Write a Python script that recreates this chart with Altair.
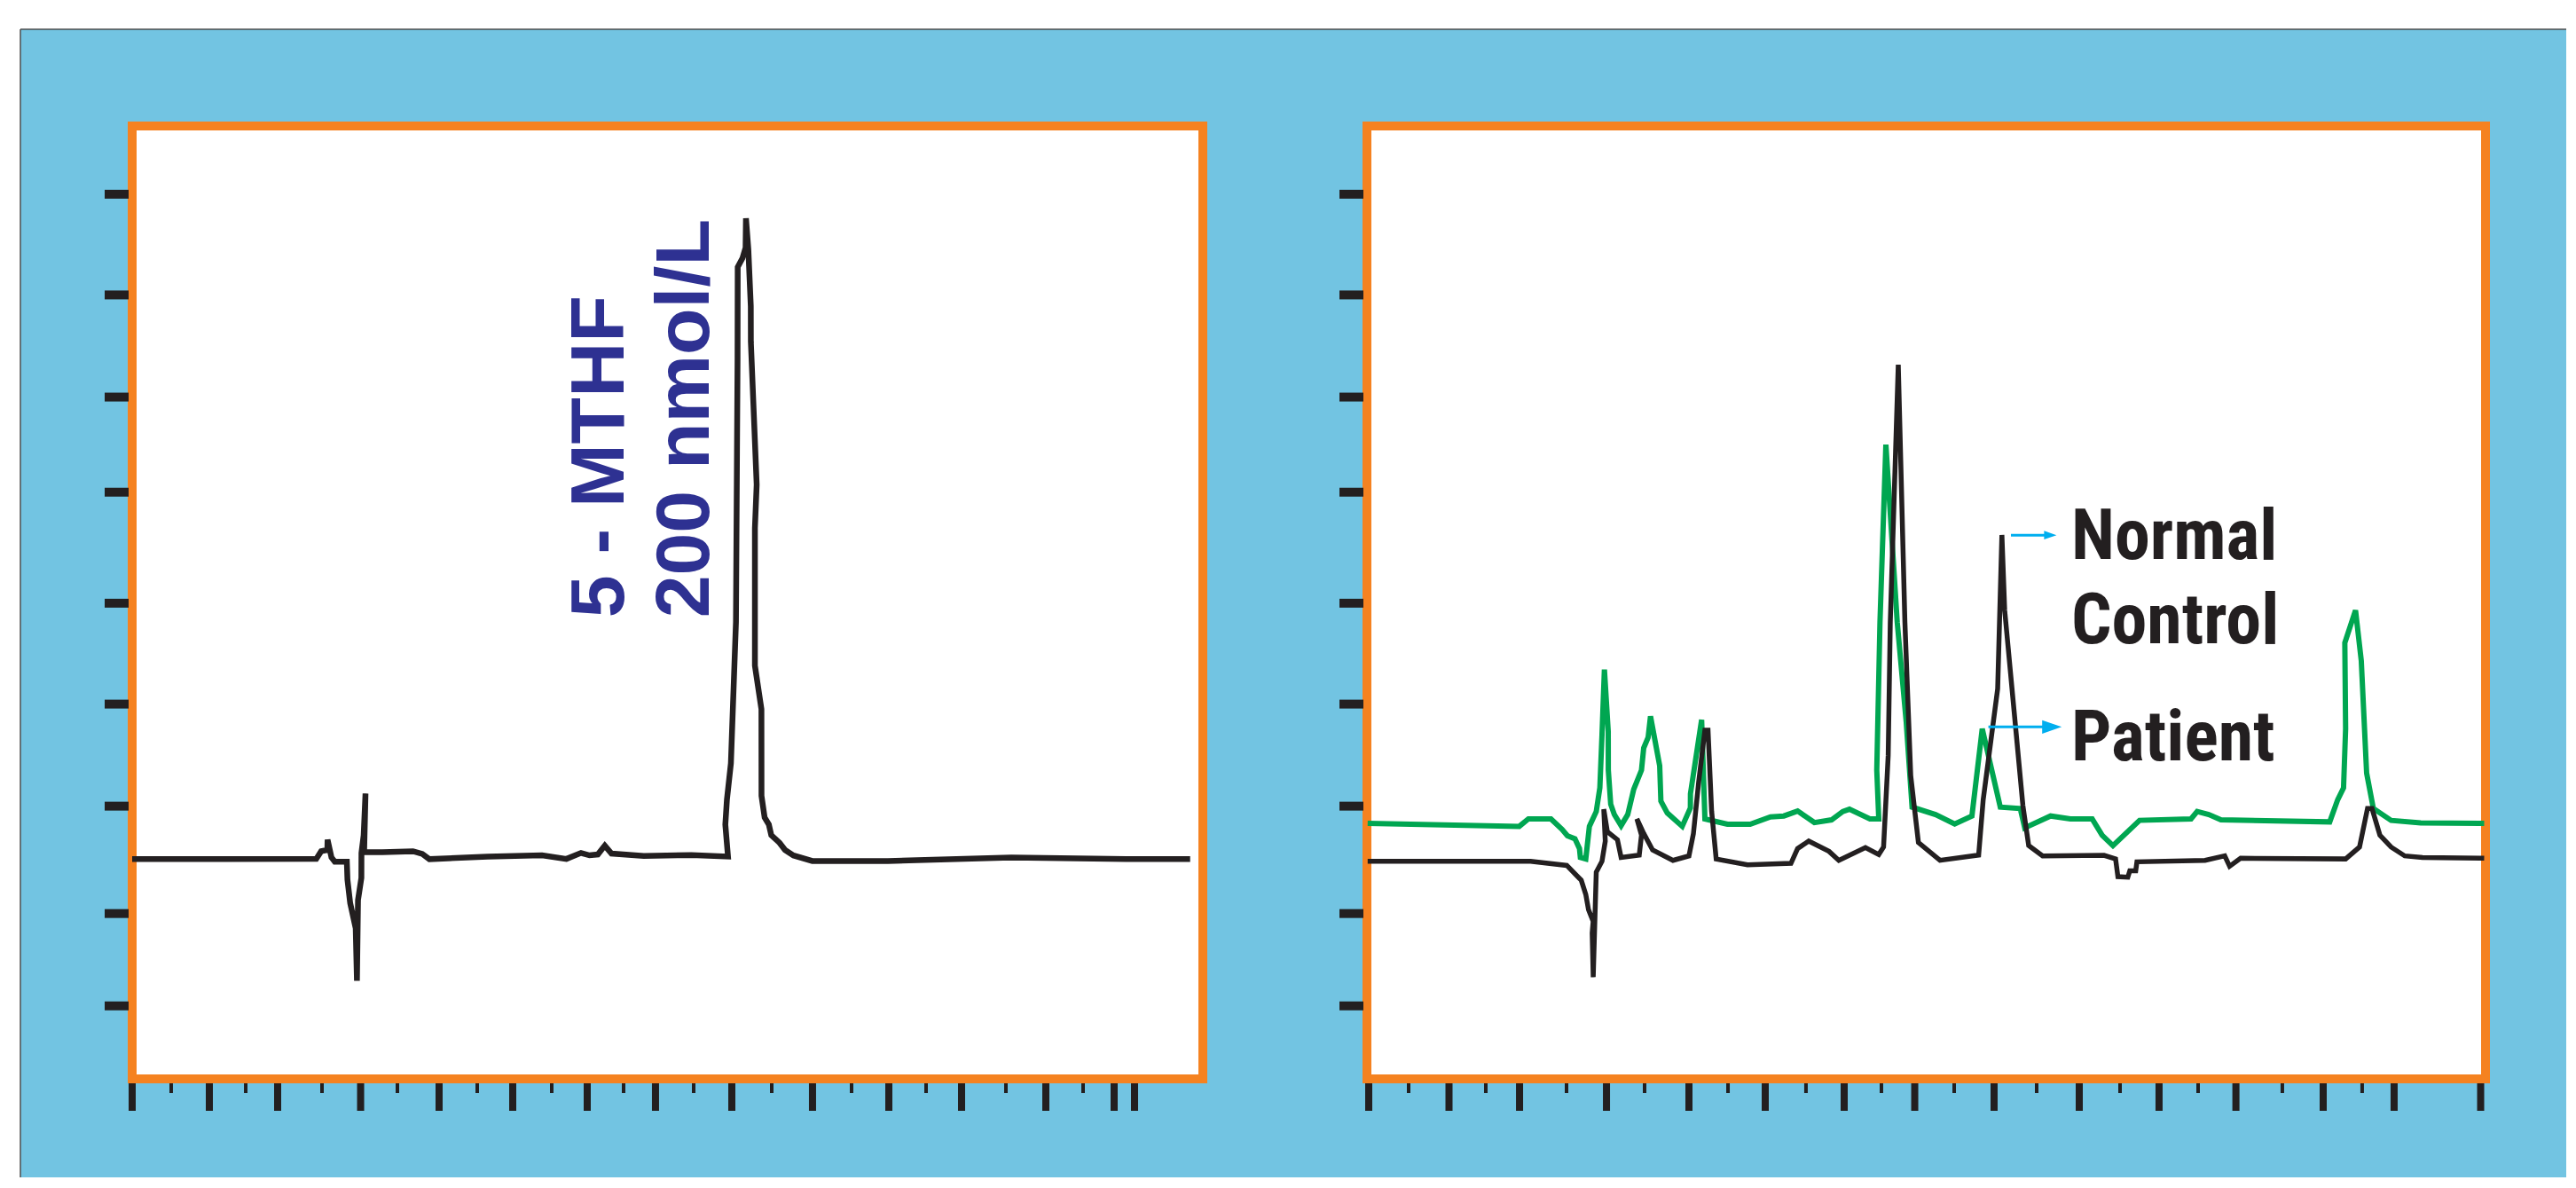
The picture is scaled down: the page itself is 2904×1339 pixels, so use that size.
import altair as alt
import pandas as pd

# ---------------- data (retention time in min, detector signal in arbitrary units) ----------------
# Left panel: 5-MTHF standard, 200 nmol/L
std_time = [0.000, 2.407, 2.471, 2.552, 2.555, 2.606, 2.650, 2.807, 2.815, 2.851, 2.923, 2.939, 2.953,
            2.997, 2.998, 3.027, 3.051, 3.033, 3.271, 3.672, 3.793, 3.886, 4.649, 5.359, 5.678, 5.869,
            5.980, 6.089, 6.180, 6.268, 6.690, 7.312, 7.791, 7.756, 7.777, 7.829, 7.895, 7.916, 7.918,
            7.980, 8.021, 8.026, 8.057, 8.089, 8.090, 8.166, 8.143, 8.143, 8.228, 8.229, 8.270, 8.325,
            8.357, 8.465, 8.537, 8.647, 8.894, 9.882, 11.495, 12.997, 13.834]
std_signal = [23.06, 23.08, 23.89, 24.02, 25.10, 23.24, 22.78, 22.78, 20.91, 18.43, 15.79, 10.29, 18.77,
              21.10, 23.71, 25.57, 29.95, 23.80, 23.80, 23.89, 23.61, 23.06, 23.33, 23.46, 23.08, 23.71,
              23.46, 23.55, 24.48, 23.64, 23.40, 23.49, 23.33, 26.69, 29.30, 33.12, 47.93, 75.69, 85.19,
              86.12, 87.24, 90.31, 87.05, 81.09, 77.36, 62.37, 57.80, 43.36, 38.80, 29.71, 27.43, 26.69,
              25.57, 24.77, 24.02, 23.45, 22.87, 22.87, 23.24, 23.06, 23.06]

# Right panel: normal control (black)
ctrl_time = [0.009, 2.048, 2.501, 2.682, 2.739, 2.773, 2.831, 2.819, 2.832, 2.870, 2.942, 2.983, 2.964,
             3.009, 3.135, 3.181, 3.408, 3.436, 3.379, 3.464, 3.575, 3.830, 4.030, 4.086, 4.152, 4.230,
             4.269, 4.314, 4.371, 4.763, 5.307, 5.390, 5.529, 5.784, 5.906, 6.239, 6.406, 6.466, 6.524,
             6.550, 6.650, 6.733, 6.806, 6.902, 7.172, 7.656, 7.713, 7.894, 7.947, 7.982, 8.210, 8.282,
             8.457, 9.226, 9.370, 9.399, 9.523, 9.548, 9.622, 9.637, 10.489, 10.736, 10.797, 10.935,
             12.249, 12.423, 12.523, 12.579, 12.678, 12.818, 12.989, 13.211, 13.983]
ctrl_signal = [22.84, 22.84, 22.40, 20.85, 19.36, 17.75, 16.53, 15.32, 10.67, 21.69, 22.84, 24.95, 28.30,
               25.94, 25.10, 23.24, 23.49, 25.57, 27.28, 25.76, 24.02, 22.93, 23.40, 25.73, 31.16, 36.59,
               36.59, 28.09, 23.08, 22.47, 22.62, 24.17, 24.95, 23.87, 22.93, 24.27, 23.55, 24.33, 33.95,
               47.93, 74.94, 47.93, 31.81, 24.80, 22.93, 23.49, 29.30, 40.94, 57.08, 49.17, 28.67, 24.48,
               23.40, 23.46, 23.08, 21.22, 21.16, 21.84, 21.84, 22.78, 22.93, 23.40, 22.31, 23.15,
               23.08, 24.33, 28.37, 28.37, 25.57, 24.33, 23.40, 23.24, 23.15]

# Right panel: patient (green)
pat_time = [0.009, 1.906, 2.021, 2.303, 2.442, 2.509, 2.603, 2.660, 2.671, 2.739, 2.784, 2.870, 2.915,
            2.942, 2.972, 3.020, 3.021, 3.051, 3.096, 3.181, 3.264, 3.339, 3.436, 3.464, 3.519, 3.549,
            3.664, 3.679, 3.759, 3.946, 4.048, 4.049, 4.189, 4.230, 4.512, 4.796, 5.051, 5.218, 5.390,
            5.600, 5.815, 5.956, 6.039, 6.295, 6.406, 6.381, 6.421, 6.495, 6.637, 6.750, 6.823, 7.116,
            7.356, 7.572, 7.701, 7.927, 8.177, 8.233, 8.556, 8.804, 9.077, 9.201, 9.337, 9.670, 10.314,
            10.391, 10.536, 10.688, 12.050, 12.150, 12.223, 12.249, 12.239, 12.373, 12.445, 12.512,
            12.596, 12.818, 13.189, 13.983]
pat_signal = [26.81, 26.50, 27.28, 27.28, 26.19, 25.51, 25.20, 24.17, 23.24, 23.08, 26.50, 28.06, 30.54,
              36.12, 42.96, 36.44, 32.40, 28.83, 27.74, 26.57, 27.74, 30.39, 32.40, 34.73, 35.82, 38.05,
              32.86, 29.14, 27.90, 26.50, 28.43, 29.92, 37.68, 27.28, 26.72, 26.72, 27.50, 27.59, 28.11,
              26.90, 27.18, 28.06, 28.30, 27.28, 27.28, 32.40, 47.93, 66.56, 47.93, 37.40, 28.52, 27.74,
              26.75, 27.59, 36.75, 28.52, 28.37, 26.34, 27.59, 27.28, 27.28, 25.57, 24.48, 27.13, 27.28,
              28.06, 27.74, 27.18, 26.97, 29.30, 30.54, 36.75, 45.76, 49.17, 43.89, 32.09,
              28.37, 27.13, 26.87, 26.81]

# tick positions (unlabelled)
y_tick_values = [92.84, 82.27, 71.55, 61.57, 49.92, 39.33, 28.62, 17.35, 7.66]
left_major_ticks = [0.0, 1.009, 1.902, 2.987, 4.013, 4.976, 5.950, 6.843, 7.841, 8.896, 9.894, 10.845,
                    11.947, 12.840, 13.107]
left_minor_ticks = [0.510, 1.485, 2.482, 3.468, 4.512, 5.486, 6.426, 7.342, 8.363, 9.407, 10.381,
                    11.425, 12.434]
right_major_ticks = [0.022, 1.027, 1.910, 2.998, 4.030, 4.985, 5.973, 6.856, 7.849, 8.915, 9.914,
                     10.876, 11.968, 12.856, 13.939]
right_minor_ticks = [0.522, 1.488, 2.498, 3.475, 4.519, 5.495, 6.439, 7.350, 8.382, 9.426, 10.403,
                     11.457, 12.456]

# annotations
std_labels = ["5 - MTHF", "200 nmol/L"]
std_label_time = [6.426, 7.539]
std_label_signal = [48.39, 48.39]

trace_labels = ["Normal", "Control", "Patient"]
trace_label_time = [8.815, 8.815, 8.815]
trace_label_signal = [54.54, 45.69, 33.40]

arrow_start = [8.060, 7.778]
arrow_end = [8.553, 8.573]
arrow_signal = [57.06, 36.93]

# ---------------- style ----------------
BG = "#72C4E2"
ORANGE = "#F58220"
INK = "#231F20"
GREEN = "#00A651"
NAVY = "#2E3192"
ARROW = "#00AEEF"
W_L, W_R, H = 1207, 1261, 1074
ARROW_HEAD_SIZES = [196, 484]
LABEL_FONT = "Liberation Sans Narrow, Noto Sans Condensed, Roboto Condensed, DejaVu Sans Condensed, Liberation Sans"

XS = alt.Scale(domain=[0, 14], nice=False, zero=False)
YS = alt.Scale(domain=[0, 100], nice=False, zero=False)
ONE = pd.DataFrame({"k": [0]})


def trace_df(t, s):
    return pd.DataFrame({"t": t, "s": s, "i": list(range(len(t)))})


def frame(width):
    return alt.Chart(ONE).mark_rect(fill="white", stroke=ORANGE, strokeWidth=10).encode(
        x=alt.value(0), x2=alt.value(width), y=alt.value(0), y2=alt.value(H))


def trace(df, color, sw):
    return alt.Chart(df).mark_line(color=color, strokeWidth=sw, strokeJoin="miter",
                                   strokeMiterLimit=3).encode(
        x=alt.X("t:Q", scale=XS, axis=None),
        y=alt.Y("s:Q", scale=YS, axis=None),
        order=alt.Order("i:Q"))


def yticks():
    return alt.Chart(pd.DataFrame({"v": y_tick_values})).mark_rule(color=INK, strokeWidth=10).encode(
        y=alt.Y("v:Q", scale=YS, axis=None), x=alt.value(-31), x2=alt.value(-4))


def xticks(vals, length, sw):
    return alt.Chart(pd.DataFrame({"t": vals})).mark_rule(color=INK, strokeWidth=sw).encode(
        x=alt.X("t:Q", scale=XS, axis=None), y=alt.value(H + 5), y2=alt.value(H + 5 + length))


# background of the whole figure (drawn inside left panel, behind everything)
bg = alt.Chart(ONE).mark_rect(fill=BG).encode(
    x=alt.value(-126), x2=alt.value(2744), y=alt.value(-109), y2=alt.value(1185))
border_top = alt.Chart(ONE).mark_rule(color="#4D4D4D", strokeWidth=1.5).encode(
    x=alt.value(-126), x2=alt.value(2744), y=alt.value(-109))
border_left = alt.Chart(ONE).mark_rule(color="#4D4D4D", strokeWidth=1.5).encode(
    x=alt.value(-126), y=alt.value(-109), y2=alt.value(1185))

std_text = alt.Chart(pd.DataFrame({"label": std_labels, "t": std_label_time, "s": std_label_signal})).mark_text(
    font="Liberation Sans", fontWeight="bold", fontSize=86, angle=270, align="left",
    baseline="alphabetic", color=NAVY).encode(
    x=alt.X("t:Q", scale=XS, axis=None), y=alt.Y("s:Q", scale=YS, axis=None), text="label:N")

left = alt.layer(
    bg, border_top, border_left, frame(W_L),
    trace(trace_df(std_time, std_signal), INK, 6.5),
    yticks(), xticks(left_major_ticks, 31, 8), xticks(left_minor_ticks, 11, 4),
    std_text,
).properties(width=W_L, height=H)

label_text = alt.Chart(pd.DataFrame({"label": trace_labels, "t": trace_label_time,
                                     "s": trace_label_signal})).mark_text(
    font=LABEL_FONT, fontWeight="bold",
    fontSize=80, align="left", baseline="alphabetic", color=INK).encode(
    x=alt.X("t:Q", scale=XS, axis=None), y=alt.Y("s:Q", scale=YS, axis=None), text="label:N")

arrow_df = pd.DataFrame({"a": arrow_start, "b": arrow_end, "s": arrow_signal, "hs": ARROW_HEAD_SIZES})
arrow_lines = alt.Chart(arrow_df).mark_rule(color=ARROW, strokeWidth=3).encode(
    x=alt.X("a:Q", scale=XS, axis=None), x2="b:Q", y=alt.Y("s:Q", scale=YS, axis=None))
arrow_heads = alt.Chart(arrow_df).mark_point(
    shape="M-1,-0.7L1,0L-1,0.7Z", filled=True, color=ARROW, opacity=1, strokeWidth=0).encode(
    x=alt.X("b:Q", scale=XS, axis=None), y=alt.Y("s:Q", scale=YS, axis=None),
    size=alt.Size("hs:Q", scale=None, legend=None))

right = alt.layer(
    frame(W_R),
    trace(trace_df(pat_time, pat_signal), GREEN, 6),
    trace(trace_df(ctrl_time, ctrl_signal), INK, 5.5),
    yticks(), xticks(right_major_ticks, 31, 8), xticks(right_minor_ticks, 11, 4),
    label_text, arrow_lines, arrow_heads,
).properties(width=W_R, height=H)

chart = alt.hconcat(left, right, spacing=185, bounds="flush").properties(
    padding={"left": 14, "top": 24, "right": 0, "bottom": 0}
).configure_view(stroke=None)

chart.save("out.html", embed_options={"renderer": "svg", "actions": False})
